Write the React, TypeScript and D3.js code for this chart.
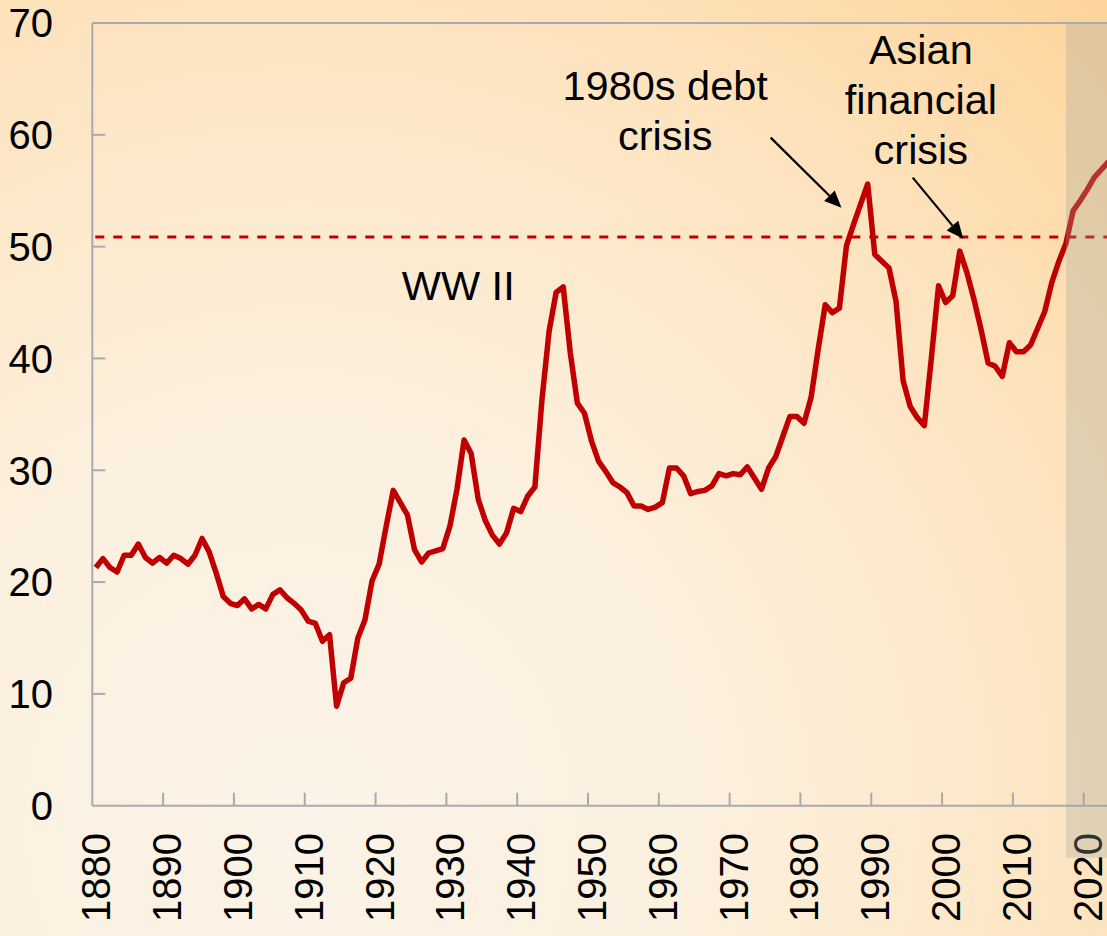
import React from "react";
import * as d3 from "d3";

const years: number[] = d3.range(1880, 2024);
const values: number[] = [
  21.3, 22.1, 21.3, 20.9, 22.4, 22.4, 23.4, 22.2, 21.7, 22.2,
  21.7, 22.4, 22.1, 21.6, 22.4, 23.9, 22.7, 20.8, 18.7, 18.1,
  17.9, 18.5, 17.6, 18.0, 17.6, 18.9, 19.3, 18.6, 18.1, 17.5,
  16.5, 16.3, 14.7, 15.3, 8.9, 11.0, 11.4, 15.0, 16.6, 20.1,
  21.6, 25.0, 28.2, 27.1, 26.0, 22.9, 21.8, 22.6, 22.8, 23.0,
  25.0, 28.3, 32.7, 31.5, 27.4, 25.5, 24.2, 23.4, 24.4, 26.6,
  26.3, 27.7, 28.5, 36.3, 42.4, 45.9, 46.4, 40.5, 36.0, 35.1,
  32.6, 30.8, 29.9, 28.9, 28.5, 28.0, 26.8, 26.8, 26.5, 26.7,
  27.1, 30.2, 30.2, 29.5, 27.9, 28.1, 28.2, 28.6, 29.7, 29.5,
  29.7, 29.6, 30.3, 29.3, 28.3, 30.2, 31.2, 33.0, 34.8, 34.8,
  34.2, 36.5, 40.8, 44.8, 44.1, 44.5, 50.1, 52.0, 53.8, 55.6,
  49.3, 48.7, 48.1, 45.1, 38.0, 35.7, 34.7, 34.0, 40.1, 46.5,
  45.0, 45.6, 49.6, 47.7, 45.3, 42.6, 39.6, 39.3, 38.4, 41.4,
  40.6, 40.6, 41.2, 42.7, 44.2, 46.8, 48.7, 50.3, 53.2, 54.1,
  55.1, 56.2, 56.9, 57.6,
];
const xTickYears: number[] = d3.range(1880, 2030, 10);
const yTicks: number[] = d3.range(0, 80, 10);
const referenceLevel = 50.85;
const projectionStart = 2017;

const annotations = [
  { lines: ["WW II"], year: 1923.7, value: 45.27, anchor: "start" },
  { lines: ["1980s debt", "crisis"], year: 1960.9, value: 63.1, anchor: "middle" },
  { lines: ["Asian", "financial", "crisis"], year: 1997.0, value: 66.3, anchor: "middle" },
];
const arrows = [
  { from: [1975.8, 59.75], to: [1985.8, 53.48] },
  { from: [1995.86, 56.17], to: [2003.0, 50.71] },
];

const W = 1107;
const H = 936;
const x0 = 92.3;
const x2020 = 1083.7;
const yTop = 23;
const yBottom = 805.7;

export default function App() {
  const x = d3.scaleLinear().domain([1880, 2020]).range([x0, x2020]);
  const y = d3.scaleLinear().domain([0, 70]).range([yBottom, yTop]);
  const pts: [number, number][] = years.map((yr, i) => [x(yr + 0.5), y(values[i])]);
  const line = d3.line<[number, number]>().x((d) => d[0]).y((d) => d[1]);
  const shadeX = x(projectionStart + 0.5);
  const axisColor = "#a7aab0";
  const font = "'Liberation Sans', Arial, sans-serif";

  const arrowShapes = arrows.map((a) => {
    const x1 = x(a.from[0]);
    const y1 = y(a.from[1]);
    const x2 = x(a.to[0]);
    const y2 = y(a.to[1]);
    const ang = Math.atan2(y2 - y1, x2 - x1);
    const len = 17;
    const half = 7.5;
    const bx = x2 - len * Math.cos(ang);
    const by = y2 - len * Math.sin(ang);
    const px = -Math.sin(ang) * half;
    const py = Math.cos(ang) * half;
    return {
      x1,
      y1,
      bx,
      by,
      head: `M${x2},${y2} L${bx + px},${by + py} L${bx - px},${by - py} Z`,
    };
  });

  return (
    <svg
      width={W}
      height={H}
      viewBox={`0 0 ${W} ${H}`}
      style={{ position: "absolute", left: 0, top: 0, display: "block" }}
      fontFamily={font}
    >
      <defs>
        <radialGradient id="bg" gradientUnits="userSpaceOnUse" cx={300} cy={820} r={1150}>
          <stop offset="0" stopColor="#fbf3e8" />
          <stop offset="0.35" stopColor="#fcf0de" />
          <stop offset="0.7" stopColor="#fde4c0" />
          <stop offset="1" stopColor="#fdd49a" />
        </radialGradient>
        <clipPath id="plotclip">
          <rect x={x0} y={0} width={W - x0} height={yBottom} />
        </clipPath>
      </defs>
      <rect x={0} y={0} width={W} height={H} fill="url(#bg)" />

      {/* axes frame */}
      <line x1={x0} x2={W} y1={yTop} y2={yTop} stroke={axisColor} strokeWidth={2} />
      <line x1={x0} x2={x0} y1={yTop} y2={yBottom} stroke={axisColor} strokeWidth={2} />
      <line x1={x0} x2={W} y1={yBottom} y2={yBottom} stroke={axisColor} strokeWidth={2} />
      {yTicks.map((t) => (
        <g key={"yt" + t}>
          {t > 0 && t < 70 && (
            <line x1={x0} x2={x0 + 13} y1={y(t)} y2={y(t)} stroke={axisColor} strokeWidth={2} />
          )}
          <text x={53} y={y(t)} dy="0.36em" textAnchor="end" fontSize={40} fill="#000">
            {t}
          </text>
        </g>
      ))}
      {xTickYears.map((t) => (
        <g key={"xt" + t}>
          {t > 1880 && (
            <line x1={x(t)} x2={x(t)} y1={yBottom - 13} y2={yBottom} stroke={axisColor} strokeWidth={2} />
          )}
          <text
            transform={`translate(${x(t + 0.5) + 14.5},833) rotate(-90)`}
            textAnchor="end"
            fontSize={40}
            fill="#000"
          >
            {t}
          </text>
        </g>
      ))}

      {/* reference dashed line */}
      <line
        x1={x0 + 3}
        x2={W}
        y1={y(referenceLevel)}
        y2={y(referenceLevel)}
        stroke="#c00000"
        strokeWidth={3}
        strokeDasharray="9 9"
      />

      {/* data line */}
      <g clipPath="url(#plotclip)">
        <path d={line(pts) || ""} fill="none" stroke="#c00000" strokeWidth={5.5} strokeLinejoin="round" />
      </g>

      {/* annotations */}
      {annotations.map((a, i) => (
        <text key={"an" + i} x={x(a.year)} y={y(a.value)} textAnchor={a.anchor} fontSize={41.5} fill="#000">
          {a.lines.map((l, j) => (
            <tspan key={j} x={x(a.year)} dy={j === 0 ? 0 : 50}>
              {l}
            </tspan>
          ))}
        </text>
      ))}
      {arrowShapes.map((a, i) => (
        <g key={"ar" + i}>
          <line x1={a.x1} y1={a.y1} x2={a.bx} y2={a.by} stroke="#000" strokeWidth={2.2} />
          <path d={a.head} fill="#000" />
        </g>
      ))}

      {/* projection shading */}
      <rect x={shadeX} y={yTop + 1} width={W - shadeX} height={857.7 - yTop - 1} fill="#a0a49d" fillOpacity={0.3} />
    </svg>
  );
}
